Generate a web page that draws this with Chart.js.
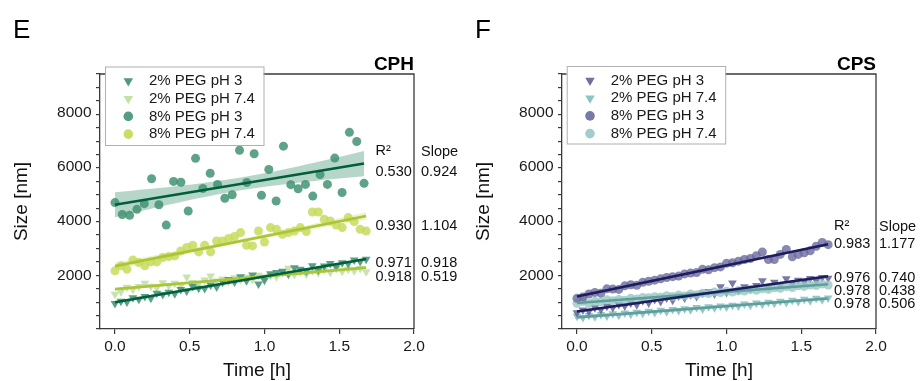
<!DOCTYPE html>
<html><head><meta charset="utf-8">
<script src="https://cdn.jsdelivr.net/npm/chart.js@4.4.1/dist/chart.umd.min.js"></script>
<style>
html,body{margin:0;padding:0;background:#fff;}
#wrap{position:relative;width:923px;height:381px;overflow:hidden;background:#fff;}
canvas{position:absolute;top:0;}
#cE{left:0;} #cF{left:462px;}
</style></head><body>
<div id="wrap"><canvas id="cE" width="461" height="381"></canvas><canvas id="cF" width="461" height="381"></canvas></div>
<script>
// ---------- DATA ----------
const seriesLabels = ['2% PEG pH 3', '2% PEG pH 7.4', '8% PEG pH 3', '8% PEG pH 7.4'];

const timeSlow = [0,0.049,0.098,0.147,0.196,0.245,0.294,0.343,0.392,0.441,0.49,0.539,0.588,0.637,0.686,0.735,0.784,0.833,0.882,0.931,0.98,1.029,1.078,1.127,1.176,1.225,1.274,1.323,1.372,1.421,1.47,1.519,1.568,1.617,1.666];
const timeFast = [0,0.04,0.08,0.12,0.16,0.2,0.24,0.28,0.32,0.36,0.4,0.44,0.48,0.52,0.56,0.6,0.64,0.68,0.72,0.76,0.8,0.84,0.88,0.92,0.96,1.0,1.04,1.08,1.12,1.16,1.2,1.24,1.28,1.32,1.36,1.4,1.44,1.48,1.52,1.56,1.6,1.64,1.68];

// CPH
const cph2pH3  = [944,1021,997,1154,1101,1197,1134,1321,1268,1354,1301,1458,1404,1571,1498,1495,1621,1548,1725,1821,1728,1925,1781,1990,1660,1801,2038,2085,2131,2018,2255,2201,2138,2335,2171,2318,2415,2301,2438,2405,2541,2488,2575];
const cph2pH74 = [1284,1375,1536,1457,1567,1688,1579,1520,1701,1591,1682,1593,1914,1715,1675,1806,1957,1768,1839,1749,1890,1811,1912,1823,1983,1914,1985,1926,2077,2237,2008,2109,2020,2161,2081,2182,2093,2234,2125,2205,2146,2227,2108];
const cph8pH3  = [4660,4220,4190,4410,4620,5540,4580,3830,5440,5410,4350,6290,5180,5740,5330,4820,4950,6590,5400,6460,4930,5880,4720,6740,5320,5170,5330,4900,5690,5330,6300,5030,7250,6910,5370];
const cph8pH74 = [2143,2327,2206,2547,2451,2327,2474,2474,2634,2671,2695,2878,3003,3088,2842,3088,2842,3246,3246,3334,3408,3555,3088,3062,3614,3209,3738,3676,3492,3555,3614,3738,3591,4312,4312,4044,3981,3834,3738,4106,3960,3676,3614];

// CPS
const cps2pH3  = [600,700,650,780,720,840,790,900,850,960,890,1040,960,1090,1010,1140,1060,1220,1140,1260,1200,1330,1380,1290,1560,1350,1700,1420,1560,1470,1600,1780,1560,1720,1620,1850,1680,1800,1740,1860,1790,1900,1870];
const cps2pH74 = [470,420,500,450,530,480,560,510,590,540,620,580,650,610,690,640,720,680,750,710,790,740,820,780,850,810,880,850,920,880,960,910,990,950,1020,980,1060,1010,1100,1040,1130,1080,1140];
const cps8pH3  = [1130,1180,1290,1350,1320,1480,1470,1460,1590,1630,1610,1720,1760,1800,1850,1900,1930,1950,2030,2060,2080,2200,2180,2260,2290,2420,2440,2500,2560,2600,2700,2840,2560,2560,2750,2930,2660,2750,2810,2880,3050,3190,3110];
const cps8pH74 = [950,1010,940,1030,1000,1080,1040,1090,1060,1130,1110,1160,1150,1190,1170,1230,1200,1250,1220,1290,1260,1320,1310,1360,1340,1390,1360,1420,1400,1460,1430,1480,1460,1520,1500,1560,1530,1590,1570,1620,1600,1660,1620];

// fit statistics shown beside the plots (top to bottom)
const r2CPH    = ['0.530','0.930','0.971','0.918'];
const slopeCPH = ['0.924','1.104','0.918','0.519'];
const r2CPS    = ['0.983','0.976','0.978','0.978'];
const slopeCPS = ['1.177','0.740','0.438','0.506'];

const yTickLabels = [2000, 4000, 6000, 8000];

// ---------- STYLE / LAYOUT ----------
const AX = '#3a3a3a';
const FONT = "'Liberation Sans', Arial, Helvetica, sans-serif";
Chart.defaults.font.family = FONT;
Chart.defaults.color = '#1a1a1a';

function regress(xs, ys) {
  const n = xs.length;
  let mx = 0, my = 0;
  for (let i = 0; i < n; i++) { mx += xs[i]; my += ys[i]; }
  mx /= n; my /= n;
  let sxx = 0, sxy = 0;
  for (let i = 0; i < n; i++) { sxx += (xs[i]-mx)*(xs[i]-mx); sxy += (xs[i]-mx)*(ys[i]-my); }
  const b = sxy / sxx, a = my - b * mx;
  let sse = 0;
  for (let i = 0; i < n; i++) { const r = ys[i] - (a + b*xs[i]); sse += r*r; }
  const s = Math.sqrt(sse / (n - 2));
  return { a, b, ci: x => 2.02 * s * Math.sqrt(1/n + (x-mx)*(x-mx)/sxx) };
}

function drawMarker(ctx, shape, x, y, r, color) {
  ctx.fillStyle = color;
  ctx.beginPath();
  if (shape === 'triangle') {
    const h = r * Math.sin(Math.PI/3);
    ctx.moveTo(x, y + r);
    ctx.lineTo(x - h, y - r/2);
    ctx.lineTo(x + h, y - r/2);
    ctx.closePath();
  } else {
    ctx.arc(x, y, r, 0, Math.PI*2);
  }
  ctx.fill();
}

const decoPlugin = {
  id: 'deco',
  afterDraw(chart, args, o) {
    const ctx = chart.ctx, ca = chart.chartArea;
    ctx.save();
    // top/right frame
    ctx.strokeStyle = AX; ctx.lineWidth = 1.3;
    ctx.beginPath();
    ctx.moveTo(ca.left, ca.top); ctx.lineTo(ca.right, ca.top); ctx.lineTo(ca.right, ca.bottom);
    ctx.stroke();
    // y tick labels
    const ys = chart.scales.y;
    ctx.font = '15.5px ' + FONT; ctx.fillStyle = '#1a1a1a';
    ctx.textAlign = 'right'; ctx.textBaseline = 'middle';
    yTickLabels.forEach(v => ctx.fillText(String(v), ca.left - 8.5, ys.getPixelForValue(v) + 0.5));
    // legend
    const L = o.legend;
    ctx.fillStyle = '#fff';
    ctx.fillRect(L.x, L.y, L.w, L.h);
    ctx.strokeStyle = '#b0b0b0'; ctx.lineWidth = 1;
    ctx.strokeRect(L.x + 0.5, L.y + 0.5, L.w, L.h);
    ctx.font = '15px ' + FONT;
    ctx.textBaseline = 'middle'; ctx.textAlign = 'left';
    o.series.forEach((s, i) => {
      const yy = L.row0 + i * L.rowH;
      drawMarker(ctx, s.shape, L.x + 23.3, yy, s.shape === 'triangle' ? 5.5 : 4.8, s.legendColor);
      ctx.fillStyle = '#1a1a1a';
      ctx.fillText(s.label, L.x + 44, yy);
    });
    // panel title
    ctx.font = 'bold 19px ' + FONT;
    ctx.textAlign = 'right'; ctx.textBaseline = 'alphabetic';
    ctx.fillStyle = '#000';
    ctx.fillText(o.title, ca.right, 69.5);
    // panel letter
    ctx.font = '26px ' + FONT; ctx.textAlign = 'left';
    ctx.fillText(o.letter, 13, 38);
    // axis titles
    ctx.font = '19px ' + FONT; ctx.textAlign = 'center'; ctx.textBaseline = 'middle';
    ctx.fillStyle = '#111';
    ctx.fillText('Time [h]', (ca.left + ca.right)/2, 371);
    ctx.save();
    ctx.translate(22, (ca.top + ca.bottom)/2);
    ctx.rotate(-Math.PI/2);
    ctx.fillText('Size [nm]', 0, 0);
    ctx.restore();
    // fit statistics
    const A = o.annot;
    ctx.font = '14.5px ' + FONT; ctx.textAlign = 'left'; ctx.textBaseline = 'middle';
    ctx.fillStyle = '#111';
    ctx.fillText('R\u00B2', A.rx, A.hy);
    ctx.fillText('Slope', A.sx, A.hy + A.shOff);
    A.r2.forEach((t, i) => ctx.fillText(t, A.rx, A.ys[i]));
    A.slope.forEach((t, i) => ctx.fillText(t, A.sx, A.ys[i] + A.sOff));
    ctx.restore();
  }
};

function makePanel(canvasId, panel) {
  const datasets = [];
  const fits = panel.series.map(s => regress(s.t, s.v));
  panel.series.forEach(s => {
    datasets.push({
      label: s.label,
      data: s.t.map((t, k) => ({ x: t, y: s.v[k] })),
      showLine: false,
      pointStyle: s.shape,
      pointRotation: s.shape === 'triangle' ? 180 : 0,
      pointRadius: s.shape === 'triangle' ? 5 : 4.5,
      pointBorderWidth: 0,
      pointBackgroundColor: s.color,
      order: s.z
    });
  });
  panel.series.forEach((s, i) => {
    const f = fits[i];
    const t0 = s.t[0], t1 = s.t[s.t.length - 1];
    const xs = [];
    for (let k = 0; k <= 30; k++) xs.push(t0 + (t1 - t0) * k / 30);
    datasets.push({
      data: xs.map(x => ({ x, y: f.a + f.b * x + f.ci(x) })),
      borderWidth: 0, borderColor: 'rgba(0,0,0,0)', pointRadius: 0,
      fill: '+1', backgroundColor: s.band, order: 10
    });
    datasets.push({
      data: xs.map(x => ({ x, y: f.a + f.b * x - f.ci(x) })),
      borderWidth: 0, borderColor: 'rgba(0,0,0,0)', pointRadius: 0,
      fill: false, order: 10
    });
  });
  panel.series.forEach((s, i) => {
    const f = fits[i];
    const t0 = s.t[0], t1 = s.t[s.t.length - 1];
    datasets.push({
      data: [{ x: t0, y: f.a + f.b * t0 }, { x: t1, y: f.a + f.b * t1 }],
      borderColor: s.lineColor, borderWidth: 2.6, pointRadius: 0,
      fill: false, order: 0
    });
  });

  return new Chart(document.getElementById(canvasId), {
    type: 'line',
    data: { datasets },
    options: {
      responsive: false, animation: false, devicePixelRatio: 1, events: [],
      layout: { padding: { top: 74, right: 47, left: 0, bottom: 0 } },
      plugins: {
        legend: { display: false }, tooltip: { enabled: false },
        deco: panel.deco
      },
      scales: {
        x: {
          type: 'linear', min: -0.1, max: 2.0,
          afterFit: sc => { sc.height = 52; },
          ticks: { stepSize: 0.5, includeBounds: false, autoSkip: false, maxRotation: 0,
                   padding: 3, color: '#1a1a1a', font: { size: 15.5 },
                   callback: v => Number(v).toFixed(1) },
          grid: { display: true, drawOnChartArea: false, drawTicks: true, tickLength: 5, color: AX, lineWidth: 1.2 },
          border: { display: true, color: AX, width: 1.3 }
        },
        y: {
          type: 'linear', min: 0, max: 9400,
          afterFit: sc => { sc.width = 100; },
          ticks: { stepSize: 500, includeBounds: false, autoSkip: false,
                   padding: 4, color: 'rgba(0,0,0,0)', font: { size: 15.5 },
                   callback: () => '' },
          grid: { display: true, drawOnChartArea: false, drawTicks: true, tickLength: 4, color: AX, lineWidth: 1.2 },
          border: { display: true, color: AX, width: 1.3 }
        }
      }
    },
    plugins: [decoPlugin]
  });
}

// CPH panel (E)
const cphSeries = [
  { label: seriesLabels[0], t: timeFast, v: cph2pH3,  shape: 'triangle', color: 'rgba(62,142,110,0.85)',  legendColor: 'rgba(62,142,110,0.9)',  lineColor: '#00603b', band: 'rgba(80,155,125,0.35)', z: 3 },
  { label: seriesLabels[1], t: timeFast, v: cph2pH74, shape: 'triangle', color: 'rgba(192,222,160,0.85)', legendColor: 'rgba(192,222,160,0.95)', lineColor: '#a9c53a', band: 'rgba(190,220,150,0.35)', z: 4 },
  { label: seriesLabels[2], t: timeSlow, v: cph8pH3,  shape: 'circle',   color: 'rgba(66,146,114,0.85)',  legendColor: 'rgba(66,146,114,0.9)',  lineColor: '#00603b', band: 'rgba(80,158,128,0.42)', z: 1 },
  { label: seriesLabels[3], t: timeFast, v: cph8pH74, shape: 'circle',   color: 'rgba(200,218,92,0.85)',  legendColor: 'rgba(200,218,92,0.95)',  lineColor: '#a9c53a', band: 'rgba(200,220,100,0.35)', z: 2 }
];
makePanel('cE', {
  series: cphSeries,
  deco: {
    title: 'CPH', letter: 'E', series: cphSeries,
    legend: { x: 105, y: 66.5, w: 158.5, h: 78.5, row0: 81, rowH: 17.7 },
    annot: { rx: 375.5, sx: 421, hy: 150.5, shOff: 1, sOff: 0, ys: [171.7, 226, 262.5, 276.5], r2: r2CPH, slope: slopeCPH }
  }
});

// CPS panel (F)
const cpsSeries = [
  { label: seriesLabels[0], t: timeFast, v: cps2pH3,  shape: 'triangle', color: 'rgba(98,98,150,0.85)',   legendColor: 'rgba(98,98,150,0.9)',   lineColor: '#1c1c5e', band: 'rgba(110,110,160,0.3)', z: 3 },
  { label: seriesLabels[1], t: timeFast, v: cps2pH74, shape: 'triangle', color: 'rgba(128,190,188,0.85)', legendColor: 'rgba(128,190,188,0.9)', lineColor: '#5f9e9c', band: 'rgba(140,195,195,0.35)', z: 4 },
  { label: seriesLabels[2], t: timeFast, v: cps8pH3,  shape: 'circle',   color: 'rgba(106,106,156,0.8)',  legendColor: 'rgba(106,106,156,0.9)', lineColor: '#1c1c5e', band: 'rgba(110,110,160,0.3)', z: 1 },
  { label: seriesLabels[3], t: timeFast, v: cps8pH74, shape: 'circle',   color: 'rgba(152,200,198,0.8)',  legendColor: 'rgba(152,200,198,0.9)', lineColor: '#5f9e9c', band: 'rgba(140,195,195,0.35)', z: 2 }
];
makePanel('cF', {
  series: cpsSeries,
  deco: {
    title: 'CPS', letter: 'F', series: cpsSeries,
    legend: { x: 104.7, y: 66, w: 158.5, h: 77.5, row0: 80.5, rowH: 17.7 },
    annot: { rx: 372, sx: 417, hy: 225.5, shOff: 1, sOff: 0, ys: [243.5, 277.5, 290.5, 304], r2: r2CPS, slope: slopeCPS }
  }
});
</script>
</body></html>
